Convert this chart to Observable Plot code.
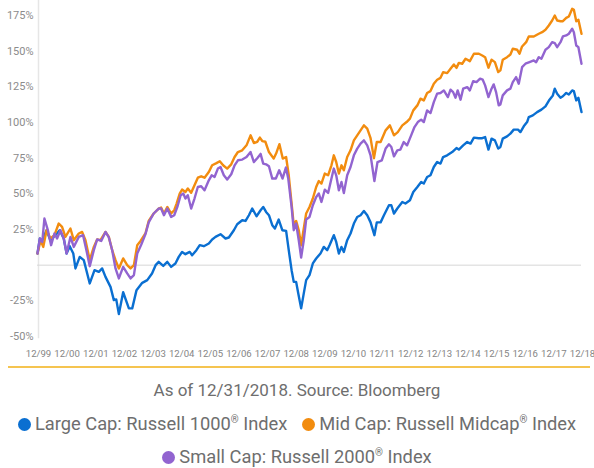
<!DOCTYPE html>
<html>
<head>
<meta charset="utf-8">
<script src="https://cdn.jsdelivr.net/npm/d3@7"></script>
<script src="https://cdn.jsdelivr.net/npm/@observablehq/plot@0.6"></script>
<style>
  html, body { margin: 0; padding: 0; background: #fff; }
  body { width: 594px; height: 468px; overflow: hidden; font-family: Roboto, "Noto Sans", sans-serif; }
  #chart svg { display: block; }
  .rule { margin-left: 8px; width: 582px; height: 2px; background: #f5c450; }
  .caption { text-align: center; color: #6e6e6e; font-size: 17px; line-height: 20px; margin-top: 12px; }
  .legend { text-align: center; color: #6e6e6e; font-size: 18.3px; line-height: 20px; }
  .row1 { margin-top: 14px; }
  .row2 { margin-top: 13px; }
  .item { display: inline-block; white-space: nowrap; }
  .item + .item { margin-left: 15px; }
  .dot { display: inline-block; width: 13px; height: 13px; border-radius: 50%; margin-right: 4px; vertical-align: -1px; }
  sup { font-size: 0.55em; vertical-align: 0.7em; line-height: 0; }
</style>
</head>
<body>
<div id="chart"></div>
<div class="rule"></div>
<div class="caption">As of 12/31/2018. Source: Bloomberg</div>
<div class="legend row1" id="row1"></div>
<div class="legend row2" id="row2"></div>
<script>
// Months since 12/1999 and cumulative return (%)
const largeCap = [[0,8.2],[1,18.7],[1.7,16.3],[3.8,24.5],[5.4,17.5],[7.5,21],[9.3,24.5],[11,18.7],[12.2,8.2],[13.5,13.3],[15,8.2],[15.9,-2.3],[17.7,5.8],[19.4,3.5],[21.9,-12.8],[23.9,-3.5],[25.7,-4.7],[27.1,-2.3],[28.5,-8.2],[30.6,-15.2],[32,-24.5],[33,-24],[34.1,-34.3],[35.9,-19],[38.3,-30.3],[39.7,-30.3],[41.5,-17.5],[43.9,-12.4],[46,-10.5],[48,-5.8],[49.5,0],[50.8,2.3],[52.7,-0.5],[54.4,2.3],[56,-1.2],[57.8,1.2],[59.2,5.8],[60.6,9.3],[62,7.7],[63.8,9.3],[64.8,7],[66.6,10.5],[68,14],[69.7,13.3],[71.8,15.2],[73.2,18],[74.6,19.8],[76.7,21.7],[78.8,18.7],[80.2,19.4],[82.3,24.5],[83.7,28.7],[85.8,31.5],[87.2,31],[88.6,35],[90,39.7],[91.8,34.3],[93.5,38.5],[94.6,40.8],[95.8,37.3],[97,35],[98.4,28],[99.5,25.7],[101.1,32],[102.6,24.5],[104.2,24],[105.3,10.5],[106.5,-3.5],[107.4,-11.7],[108.4,-11.7],[109.3,-19.8],[110.5,-30.3],[111.6,-19.8],[112.6,-10.5],[114,-7],[115.4,1.2],[116.8,4.7],[118.6,8.2],[120,12.8],[121.4,10.5],[122.4,14],[124.2,21],[125.2,16.3],[126.3,8.2],[127.4,12.8],[128.4,9.3],[129.8,17.5],[131.2,22.2],[132.6,29.2],[134,33.8],[135.4,35],[136.8,38],[138.2,35],[139.6,30],[141.2,21],[142.2,30],[143.8,30],[145.2,35],[147.3,42],[148.3,42],[149.4,36.2],[150.8,39.7],[152.9,44.3],[154.2,43.2],[156.1,45.5],[157.5,51.3],[159.2,54.8],[160.8,58.3],[161.9,57.2],[163.3,61.8],[164.7,63],[166.1,68.8],[167.5,72.3],[168.9,71.2],[170,75.8],[171.7,77],[173.8,79.3],[175.6,82.1],[176.6,81],[178.4,84],[180.1,86.3],[181.5,85.2],[182.9,89.4],[184.9,89],[186.4,89],[187.6,89.8],[189,81],[190.3,88.7],[191.7,87.5],[193.1,81.7],[194,82.8],[195,88.7],[196.8,90.3],[198.2,92.2],[199.6,95],[201.4,95],[202.4,93.3],[203.8,97.3],[205.2,100.3],[205.9,103.8],[207.6,105],[209.4,107.3],[211.2,109],[212.9,111.3],[214.6,116],[216,119],[216.8,123.7],[217.8,120.2],[219.2,117.4],[220.2,118.4],[221.6,120.7],[222.7,119.6],[224.1,122.5],[224.8,122],[225.8,115.5],[226.7,117.3],[228,107.3]];

const midCap = [[0,8.2],[1.3,17.5],[2.4,12.8],[3.8,24.5],[5.4,18.7],[7.1,21],[8.9,29.2],[10.3,26.8],[11.7,19.8],[13.8,25.7],[15.2,17.5],[17.3,22.2],[18.7,23.3],[20.1,17.5],[21.9,3.5],[23.6,12.8],[25,18],[26.4,17.5],[28.5,23.3],[29.9,19.8],[31.3,10.5],[32.7,3.5],[34.1,-2.3],[35.9,4.7],[37.6,0],[39,-2.3],[40.4,0],[41.8,14],[43.2,17],[45.3,22.5],[46.6,31],[48.7,36.2],[50.8,39.7],[51.8,40.4],[53,36.2],[54.4,40.8],[56,36.2],[57.3,38.5],[58.3,43.2],[59.6,50.2],[60.6,53],[62,51.3],[63,53.7],[64.4,50.7],[65.8,56],[67.2,61.3],[68.6,62.3],[70,61.3],[71.8,65.3],[73.2,70],[75,71.5],[76.4,72.8],[77.8,70],[79.5,67.7],[81.2,70.7],[82.6,75.8],[84,79.3],[85.8,80.5],[87.6,84],[89.3,91],[90.7,85.6],[92.1,86.5],[93.2,89.4],[94.2,87],[95.5,86.5],[97,79.3],[99,74.7],[100,78.2],[101.4,84.8],[102.8,74.7],[104.2,75.8],[105.3,63],[106.5,43.2],[107.4,28],[108.4,31],[109.5,24.5],[110.5,14],[111.6,25.7],[112.6,36.2],[114,40.8],[115.4,46.7],[116.8,54.8],[117.9,59],[119,57.2],[120.4,64.2],[121.8,63],[123.2,70],[124.2,77],[125.2,72.3],[126.3,64.2],[127.4,70],[128.4,66.5],[129.8,75.8],[131.2,80.5],[132.6,87.5],[134,91],[135.4,94.5],[136.8,98],[138.2,95.7],[139.6,89],[141,75],[142.2,86.3],[143.8,86.3],[145.9,94.5],[147.7,98],[149.4,91],[151,93.3],[152.9,98],[154.7,100.3],[156.1,102.7],[157.5,108.5],[159.2,112],[160.5,116.7],[161.9,115.5],[163.3,120.7],[164.7,122],[166.1,127.2],[167.5,130],[168.9,131.3],[170,135.3],[171.7,134.6],[173.1,137.7],[174.5,140.7],[175.6,138.3],[176.6,141.8],[178,141.2],[179.4,144.7],[181.2,143],[182.9,148.2],[185,148.2],[186.4,147],[187.6,145.8],[189,138.4],[190.3,144],[191.7,142.3],[193.1,135.3],[194,136.5],[195,144],[196.8,145.8],[198.2,147.7],[199.2,151.7],[201,151],[202,148.2],[203.1,153.3],[204.8,156.3],[205.9,160.3],[208,160.3],[210.1,162.2],[211.5,163.3],[212.9,165],[214.3,168],[215.7,171.5],[216.8,175],[217.8,171.5],[219.2,171],[220.2,171],[221.6,173.3],[222.7,174.3],[224.1,179.7],[224.8,179],[225.8,171],[226.7,172],[228,162.2]];

const smallCap = [[0,8.2],[1,18.7],[2,16.3],[2.9,32.7],[4.3,24.8],[5.7,14],[7.1,22.2],[8.2,18.7],[9.6,24.5],[11,18.7],[12.2,8.2],[13.8,19.8],[15.2,12.8],[17.3,19.8],[19.1,21],[20.5,10.5],[21.9,-0.7],[23.6,10.5],[25,18],[26.7,17],[28.5,23.3],[29.9,19.4],[31.3,10.5],[32.7,-2.3],[34.1,-9.3],[35.9,-1.2],[37.6,-5.8],[39,-9.3],[40.4,-7],[41.8,8.2],[43.5,14.5],[45.3,22],[46.6,30],[48.7,36.2],[50.8,39.7],[51.8,39.7],[53,35],[54.4,39.7],[56,33.8],[57.3,35],[58.7,41.3],[60,49],[61.1,50.2],[62,46.7],[63,49],[64.4,39.7],[65.8,46.7],[67.2,54.8],[68.6,55.3],[70,52.5],[71.8,59.5],[73,63],[74.2,61.8],[75.6,67.7],[76.7,68.8],[78.1,63],[79.5,60],[81.2,63.7],[82.6,70],[84,73.5],[85.8,74],[87.6,75.8],[89.3,79.3],[90.7,72.3],[92.1,75],[93.5,78],[94.6,71.2],[95.8,70.7],[97,69.3],[98.4,60.7],[99.9,60.7],[101.3,66.5],[102.7,60.7],[104.1,68.4],[105.1,60.7],[106.5,40.8],[107.4,24.5],[108.4,29.2],[109.5,17.5],[110.5,5.4],[111.6,17.5],[112.6,32],[114,33.8],[115.4,42],[116.8,47.8],[117.9,50.2],[119,44.3],[120.4,52.9],[121.8,50.6],[123.2,60.7],[124.2,67.7],[125.2,63],[126.3,52.5],[127.4,58.3],[128.4,50.6],[129.8,63],[131.2,68.8],[132.6,77],[134,81.7],[135.4,85.2],[136.8,87.5],[138.2,84],[139.6,77],[141.2,59],[142.5,72.3],[144.3,73.5],[145.9,81.7],[147.3,84.7],[148.3,82.8],[149.4,76.3],[150.8,80.5],[152.1,81],[153.5,86.3],[154.9,84],[156.6,91],[158,96.8],[159.4,100.3],[160.8,102],[161.9,100.3],[163.3,108.5],[164.7,106.6],[166.1,114.3],[167.5,120.2],[168.9,120.7],[170.3,122.5],[172,117.8],[173.1,123],[174.2,121.3],[175.2,117.4],[176.1,122.5],[177.3,116],[178.4,123.7],[180.1,124.8],[181.2,122.5],[182.6,129],[184,128.3],[185.5,130.7],[186.6,130],[187.6,126],[189,117.8],[190.3,123.7],[191.2,126.7],[192.2,121.3],[193.3,112],[194,112.7],[195,119],[196.8,122.5],[198.2,123.7],[199.2,128.3],[200.6,131.8],[201.7,127.2],[203.1,138.8],[204.5,141.2],[206.2,142.3],[208,143.5],[209,142.3],[210.1,145.8],[211.2,144.7],[212.9,151],[214.3,152.8],[215.7,156.3],[216.8,155.6],[217.8,152.8],[219.2,156.3],[220.2,160.3],[221.6,161],[222.7,162.2],[224.1,165.7],[224.8,163.3],[225.8,154],[226.7,152.8],[228,141.2]];

const seriesNames = ["Large Cap: Russell 1000® Index", "Mid Cap: Russell Midcap® Index", "Small Cap: Russell 2000® Index"];
const seriesColors = ["#0a6fd1", "#f28c0f", "#9264d0"];

const xTicks = [0,12,24,36,48,60,72,84,96,108,120,132,144,156,168,180,192,204,216,228];
const xTickLabels = ["12/99","12/00","12/01","12/02","12/03","12/04","12/05","12/06","12/07","12/08","12/09","12/10","12/11","12/12","12/13","12/14","12/15","12/16","12/17","12/18"];
const yTicks = [-50,-25,25,50,75,100,125,150,175];

const rows = [];
[largeCap, midCap, smallCap].forEach((arr, i) => {
  arr.forEach(([m, v]) => rows.push({series: seriesNames[i], m, v}));
});

const chart = Plot.plot({
  width: 594,
  height: 366,
  marginTop: 15,
  marginBottom: 30,
  marginLeft: 37,
  marginRight: 13,
  style: {fontFamily: "Roboto, sans-serif", background: "#fff"},
  x: {domain: [0, 228], axis: null},
  y: {domain: [-50, 175], axis: null},
  color: {domain: seriesNames, range: seriesColors},
  marks: [
    Plot.ruleX([0], {y1: -51.5, y2: 185.5, stroke: "#e6e6e6", strokeWidth: 1.5, dx: 1, clip: false}),
    Plot.ruleY([0], {stroke: "#d6d6d6", strokeWidth: 1}),
    Plot.axisY(yTicks, {label: null, tickSize: 0, tickPadding: 4, fontSize: 11, fill: "#8c8c8c", tickFormat: d => d + "%"}),
    Plot.axisX(xTicks, {label: null, tickSize: 0, tickPadding: 14, fontSize: 9.6, fill: "#858585", dx: 1, tickFormat: d => xTickLabels[xTicks.indexOf(d)]}),
    Plot.line(rows, {x: "m", y: "v", z: "series", stroke: "series", strokeWidth: 2.4, strokeLinejoin: "round", clip: false})
  ]
});
document.getElementById("chart").appendChild(chart);

function item(i) {
  const name = seriesNames[i].replace("®", "<sup>®</sup>");
  return `<span class="item"><span class="dot" style="background:${seriesColors[i]}"></span>${name}</span>`;
}
document.getElementById("row1").innerHTML = item(0) + item(1);
document.getElementById("row2").innerHTML = item(2);
</script>
</body>
</html>
